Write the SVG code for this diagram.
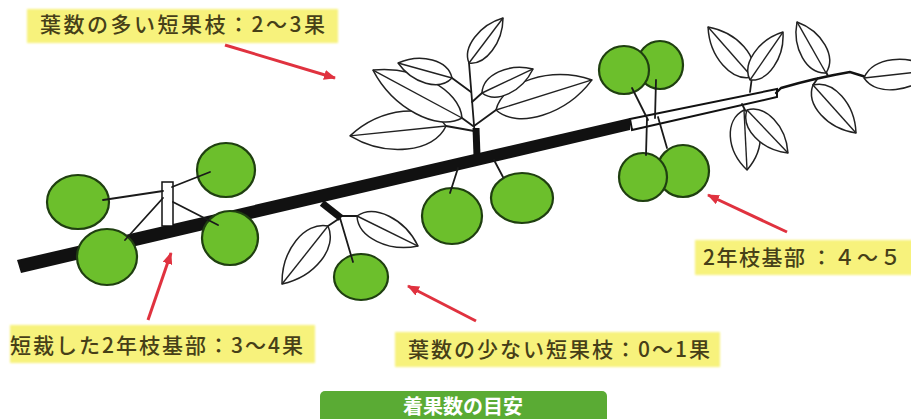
<svg xmlns="http://www.w3.org/2000/svg" xmlns:xlink="http://www.w3.org/1999/xlink" width="911" height="419" viewBox="0 0 911 419">
  <defs>
    <style>
      .branch { fill: #111; }
      .twig { fill: none; stroke: #111; stroke-width: 2.4; stroke-linecap: round; }
      .stem { fill: none; stroke: #1a1a1a; stroke-width: 1.8; stroke-linecap: round; }
      .fruit { fill: #6cbf2c; stroke: #1f3f10; stroke-width: 2.2; }
      .leafshape { fill: #fff; stroke: #222; stroke-width: 1.5; stroke-linejoin: round; }
      .rib { fill: none; stroke: #222; stroke-width: 1.4; }
      .label-box { fill: #f7f27c; filter: url(#soft); }
      .label { font-family: "Noto Sans CJK JP", "Noto Sans", sans-serif; font-size: 21px; font-weight: 500; fill: #463f18; }
      .arrow { fill: none; stroke: #e0323f; stroke-width: 3; marker-end: url(#head); }
      .title-box { fill: #5aab34; }
      .title { font-family: "Noto Sans CJK JP", "Noto Sans", sans-serif; font-size: 20px; font-weight: 700; fill: #fff; }
    </style>
    <filter id="soft" x="-5%" y="-20%" width="110%" height="140%">
      <feGaussianBlur stdDeviation="1.2"/>
    </filter>
    <marker id="head" viewBox="0 0 12 10" refX="11" refY="5" markerWidth="12" markerHeight="10" markerUnits="userSpaceOnUse" orient="auto">
      <path d="M0,0 L12,5 L0,10 Z" fill="#e0323f"/>
    </marker>
    <!-- unit leaf: base at origin, tip at (100,0), about 33 wide -->
    <g id="leaf">
      <path class="leafshape" vector-effect="non-scaling-stroke" d="M0,0 C15,-22 65,-22 100,0 C65,22 15,22 0,0 Z"/>
      <path class="rib" vector-effect="non-scaling-stroke" d="M0,0 L100,0"/>
    </g>
  </defs>

  <rect width="911" height="419" fill="#fff"/>

  <!-- shoot with leaves above the main branch -->
  <g id="upper-shoot">
    <path class="stem" d="M476,150 L469,63"/>
    <path class="stem" d="M446,126 L474,131 M462,118 L473,126 M452,78 L471,92 M482,93 L472,102 M496,110 L474,126"/>
    <use href="#leaf" transform="translate(446,126) rotate(174.1) scale(0.965,1.15)"/>
    <use href="#leaf" transform="translate(462,118) rotate(-151.7) scale(1.011,1.09)"/>
    <use href="#leaf" transform="translate(452,78) rotate(-164.5) scale(0.56,0.727)"/>
    <use href="#leaf" transform="translate(469,63) rotate(-52.9) scale(0.564,0.667)"/>
    <use href="#leaf" transform="translate(496,110) rotate(-17.4) scale(1.006,1.15)"/>
    <use href="#leaf" transform="translate(482,93) rotate(-25.2) scale(0.564,0.727)"/>
    <path d="M476,128 L477,156" stroke="#111" stroke-width="7" fill="none"/>
  </g>

  <!-- one-year extension and its leaves -->
  <g id="extension">
    <polygon points="630,119 777,89 777,97 632,130" fill="#fff" stroke="#111" stroke-width="2"/>
    <path class="twig" d="M776,93 L781,88 Q815,78 850,72 L866,77"/>
    <path class="stem" d="M750,92 L752,77 M742,104 L745,110 M828,76 L826,72 M818,78 L813,85"/>
    <use href="#leaf" transform="translate(752,77) rotate(-131.3) scale(0.666,0.848)"/>
    <use href="#leaf" transform="translate(750,80) rotate(-55.5) scale(0.582,0.727)"/>
    <use href="#leaf" transform="translate(744,110) rotate(87.1) scale(0.601,0.909)"/>
    <use href="#leaf" transform="translate(747,110) rotate(46.4) scale(0.594,0.788)"/>
    <use href="#leaf" transform="translate(826,73) rotate(-119.6) scale(0.587,0.788)"/>
    <use href="#leaf" transform="translate(813,85) rotate(48.1) scale(0.644,0.848)"/>
    <use href="#leaf" transform="translate(864,78) rotate(-6.4) scale(0.714,0.909)"/>
  </g>

  <!-- main two-year branch -->
  <g id="main-branch">
    <polygon class="branch" points="17,260 630,118 630,130 21,273"/>
  </g>

  <!-- short fruiting spur with few leaves -->
  <g id="small-spur">
    <path class="stem" d="M340,218 L328,226 M340,216 L357,216"/>
    <use href="#leaf" transform="translate(328,226) rotate(128.4) scale(0.74,0.97)"/>
    <use href="#leaf" transform="translate(357,216) rotate(26.2) scale(0.68,0.848)"/>
    <ellipse class="fruit" cx="361" cy="277" rx="27" ry="23"/>
    <path d="M322,203 L341,218" stroke="#111" stroke-width="7" fill="none"/>
    <path class="stem" d="M340,218 L353,262"/>
  </g>

  <!-- pruned base with post and four fruits -->
  <g id="pruned-base">
    <ellipse class="fruit" cx="78" cy="202" rx="31" ry="27"/>
    <ellipse class="fruit" cx="226" cy="170" rx="29" ry="27"/>
    <ellipse class="fruit" cx="107" cy="257" rx="30" ry="28"/>
    <ellipse class="fruit" cx="230" cy="238" rx="28" ry="27"/>
    <rect x="162" y="182" width="11" height="44" fill="#fff" stroke="#111" stroke-width="1.5"/>
    <path class="stem" d="M103,200 L163,191 M210,172 L172,187 M125,240 L163,198 M218,225 L173,202"/>
  </g>

  <!-- fruits hanging from the main branch -->
  <g id="branch-fruits">
    <ellipse class="fruit" cx="452" cy="216" rx="30" ry="28"/>
    <ellipse class="fruit" cx="522" cy="198" rx="31" ry="25"/>
    <path class="stem" d="M458,168 L450,193 M494,160 L503,177"/>
  </g>

  <!-- fruit cluster at the base of the extension -->
  <g id="base-cluster">
    <ellipse class="fruit" cx="660" cy="65" rx="23" ry="24"/>
    <ellipse class="fruit" cx="624" cy="70" rx="25" ry="24"/>
    <ellipse class="fruit" cx="683" cy="171" rx="26" ry="26"/>
    <ellipse class="fruit" cx="643" cy="177" rx="24" ry="24"/>
    <path class="stem" d="M632,88 L648,120 M656,80 L655,118 M647,118 L646,155 M658,117 L667,148"/>
  </g>

  <!-- pointer arrows -->
  <g id="connectors">
    <path class="arrow" d="M225,45 L335,78"/>
    <path class="arrow" d="M787,232 L708,195"/>
    <path class="arrow" d="M148,320 L171,253"/>
    <path class="arrow" d="M476,321 L408,286"/>
  </g>

  <g id="label-many-leaves">
    <rect class="label-box" x="27" y="9" width="311" height="34"/>
    <text class="label" x="40" y="32" textLength="285" lengthAdjust="spacing">葉数の多い短果枝：2〜3果</text>
  </g>

  <g id="label-extension-base">
    <rect class="label-box" x="695" y="240" width="220" height="35"/>
    <text class="label" x="703" y="265"><tspan letter-spacing="1.5">2年枝基部</tspan><tspan x="811" letter-spacing="2">：４〜５</tspan></text>
  </g>

  <g id="label-pruned-base">
    <rect class="label-box" x="10" y="325" width="305" height="38"/>
    <text class="label" x="10" y="353" textLength="293" lengthAdjust="spacing">短裁した2年枝基部：3〜4果</text>
  </g>

  <g id="label-few-leaves">
    <rect class="label-box" x="395" y="332" width="325" height="35"/>
    <text class="label" x="408" y="357" textLength="302" lengthAdjust="spacing">葉数の少ない短果枝：0〜1果</text>
  </g>

  <g id="title">
    <rect class="title-box" x="320" y="391" width="287" height="40" rx="5"/>
    <text class="title" x="463" y="414" text-anchor="middle">着果数の目安</text>
  </g>
</svg>
